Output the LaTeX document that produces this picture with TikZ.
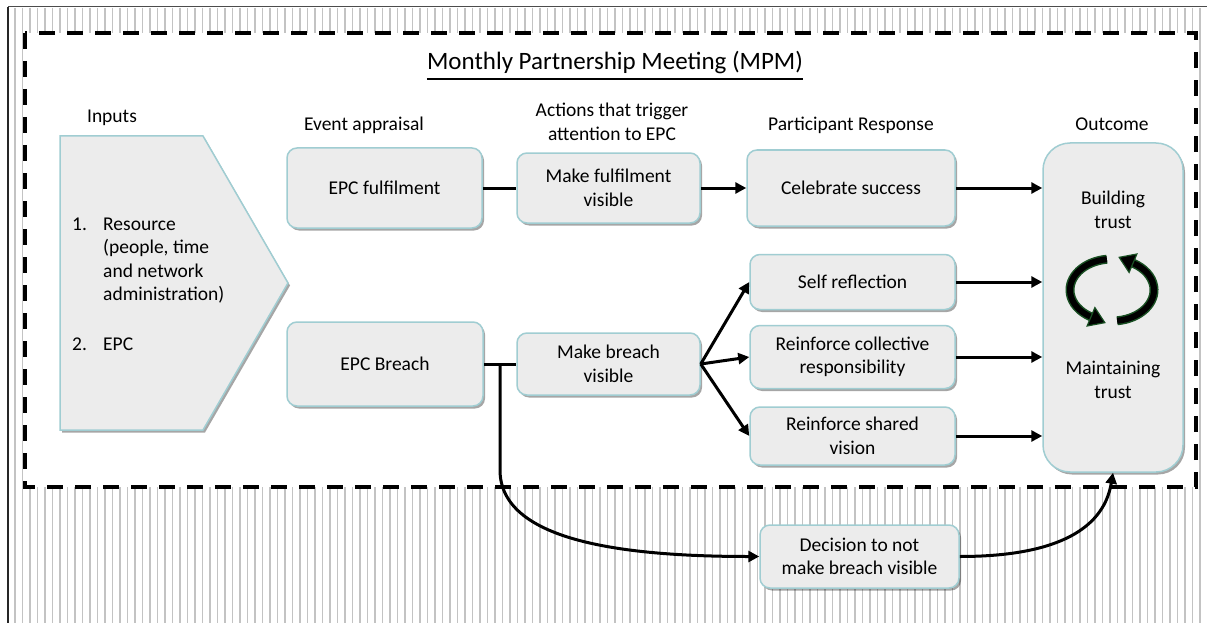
\documentclass[tikz,border=0pt]{standalone}
\usepackage{fontspec}
\setmainfont{Carlito}
\usetikzlibrary{arrows.meta,shadows,calc}
\definecolor{bordc}{RGB}{160,205,210}
\definecolor{boxfill}{RGB}{236,236,236}
\definecolor{stripec}{RGB}{195,195,195}
\definecolor{cycgreen}{RGB}{25,80,35}
\begin{document}
\begin{tikzpicture}[x=1pt,y=-1pt,
  txt/.style={font=\fontsize{19.5}{23.5}\selectfont},
  box/.style={txt, draw=bordc, line width=1.5pt, fill=boxfill, rounded corners=10pt, align=center, inner sep=0pt,
    drop shadow={shadow xshift=2pt, shadow yshift=-2.5pt, opacity=0.35, fill=black}},
  lbl/.style={txt, inner sep=0pt, align=center},
  conn/.style={line width=3pt, draw=black},
  arr/.style={conn, -{Triangle[length=11pt,width=11pt]}},
]
\useasboundingbox (0,0) rectangle (1207,623);
\fill[white] (0,0) rectangle (1207,623);
% background stripes
\foreach \k in {0,...,158} {
  \draw[stripec, line width=1.4pt] ({15+\k*7.5},8) -- ({15+\k*7.5},623);
}
\draw[black!70, line width=1pt] (8,7) -- (1207,7);
\draw[black!85, line width=1.2pt] (8,7) -- (8,623);
% dashed MPM frame
\draw[fill=white, line width=3.5pt, dash pattern=on 16pt off 12pt] (25,33) rectangle (1196,487);
% title
\node[inner sep=0pt, anchor=base, font=\fontsize{25}{30}\selectfont] (title) at (615,70) {Monthly Partnership Meeting (MPM)};
\draw[line width=1.3pt] ([yshift=-9pt]title.base west) -- ([yshift=-9pt]title.base east);
% column labels
\node[lbl, anchor=base] (linputs) at (112,123) {Inputs};
\node[lbl, anchor=base] (levent) at (364,131) {Event appraisal};
\node[lbl] (lactions) at (612,122) {Actions that trigger\\attention to EPC};
\node[lbl, anchor=base] (lresp) at (851,131) {Participant Response};
\node[lbl, anchor=base] (lout) at (1112,131) {Outcome};
% inputs pentagon
\filldraw[draw=bordc, line width=1.5pt, fill=boxfill,
  drop shadow={shadow xshift=2pt, shadow yshift=-2.5pt, opacity=0.35, fill=black}]
  (60,136) -- (203,136) -- (288,283) -- (203,430) -- (60,430) -- cycle;
\node[lbl, anchor=base west] (n1) at (72,230) {1.};
\node[lbl, anchor=north west, align=left] (res) at (103,217.4) {Resource\\(people, time\\and network\\administration)};
\node[lbl, anchor=base west] (n2) at (72,350) {2.};
\node[lbl, anchor=base west] (epc) at (103,350) {EPC};
% boxes
\node[box, minimum width=195pt, minimum height=80pt] (fulf) at (384.5,188) {EPC fulfilment};
\node[box, minimum width=183pt, minimum height=70pt] (mfv) at (608.5,188) {Make fulfilment\\visible};
\node[box, minimum width=208pt, minimum height=76pt] (cel) at (851,188) {Celebrate success};
\node[box, rounded corners=27pt, minimum width=140pt, minimum height=329pt] (outc) at (1113,307.5) {};
\node[lbl] (bt) at (1113,210) {Building\\trust};
\node[lbl] (mt) at (1113,380) {Maintaining\\trust};
\node[box, minimum width=196pt, minimum height=84pt] (breach) at (385,364) {EPC Breach};
\node[box, minimum width=183pt, minimum height=62pt] (mbv) at (608.5,364) {Make breach\\visible};
\node[box, minimum width=205pt, minimum height=55pt] (selfr) at (852.5,282) {Self reflection};
\node[box, minimum width=205pt, minimum height=63pt] (rcol) at (852.5,357) {Reinforce collective\\responsibility};
\node[box, minimum width=205pt, minimum height=58pt] (rsv) at (852.5,436) {Reinforce shared\\vision};
\node[box, minimum width=199pt, minimum height=63pt] (dec) at (859.5,556.5) {Decision to not\\make breach visible};
% cycle icon
\begin{scope}[shift={(1112,290)}, y=1pt]
  \draw[cycgreen, line width=9pt] (97:42 and 31) arc[start angle=97, end angle=240, x radius=42, y radius=31];
  \draw[black, line width=6pt] (97:42 and 31) arc[start angle=97, end angle=240, x radius=42, y radius=31];
  \filldraw[fill=black, draw=cycgreen, line width=1.2pt] (-17.1,-17.6) -- (-7.2,-32.65) -- (-24.9,-36.0) -- cycle;
  \draw[cycgreen, line width=9pt] (277:42 and 31) arc[start angle=277, end angle=420, x radius=42, y radius=31];
  \draw[black, line width=6pt] (277:42 and 31) arc[start angle=277, end angle=420, x radius=42, y radius=31];
  \filldraw[fill=black, draw=cycgreen, line width=1.2pt] (17.1,17.6) -- (7.2,32.65) -- (24.9,36.0) -- cycle;
\end{scope}
% connectors
\draw[conn] (fulf.east) -- (mfv.west);
\draw[arr] (mfv.east) -- (cel.west);
\draw[arr] (cel.east) -- (outc.west |- cel.east);
\draw[conn] (breach.east) -- (mbv.west);
\draw[arr] (mbv.east) -- (selfr.west);
\draw[arr] (mbv.east) -- (rcol.west);
\draw[arr] (mbv.east) -- (rsv.west);
\draw[arr] (selfr.east) -- (outc.west |- selfr.east);
\draw[arr] (rcol.east) -- (outc.west |- rcol.east);
\draw[arr] (rsv.east) -- (outc.west |- rsv.east);
\coordinate (br) at ($(breach.east)!0.5!(mbv.west)$);
\coordinate (bend) at (500,470);
\draw[arr] (br) -- (bend) .. controls +(0,70) and +(-140,0) .. (dec.west);
\draw[arr] (dec.east) .. controls +(90,0) and +(-10,60) .. (outc.south);
\end{tikzpicture}
\end{document}
